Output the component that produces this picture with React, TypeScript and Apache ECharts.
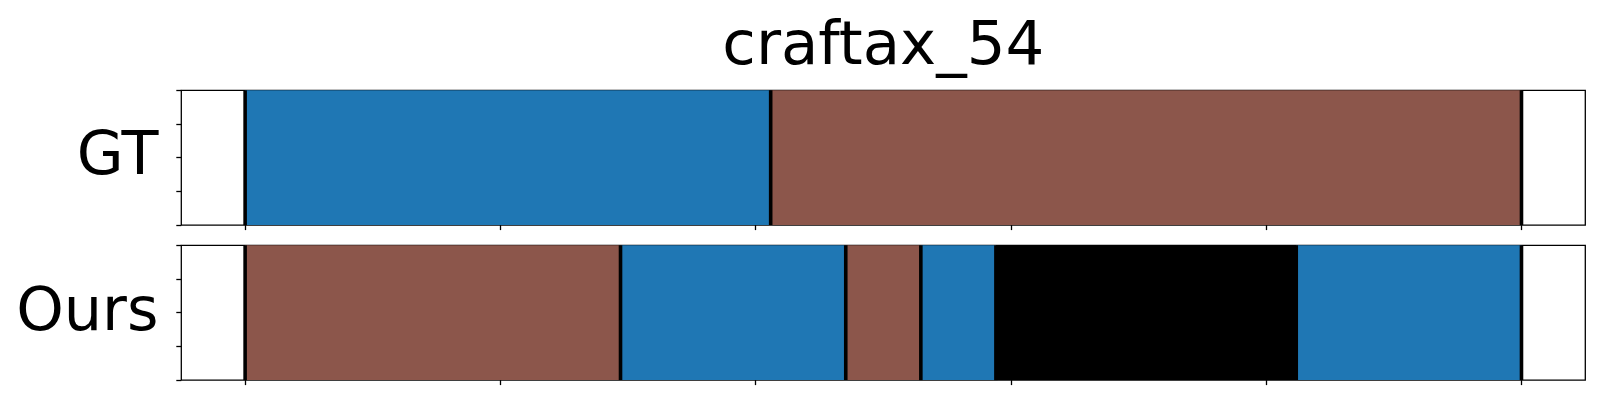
import React, { useEffect, useRef } from "react";
import * as echarts from "echarts";

// ---- data ----
const titleText = "craftax_54";
const rowLabels = ["GT", "Ours"];
const nFrames = 17;
const classColors = ["#1f77b4", "#8c564b", "#000000"];
const gtBoundaries = [0, 7, 17];
const gtClasses = [0, 1];
const oursBoundaries = [0, 5, 8, 9, 10, 14, 17];
const oursClasses = [1, 0, 1, 0, 2, 0];
const xTickFractions = [0, 0.2, 0.4, 0.6, 0.8, 1.0];

const rows = [
  { boundaries: gtBoundaries, classes: gtClasses },
  { boundaries: oursBoundaries, classes: oursClasses },
];

const FONT = "DejaVu Sans";

export default function App() {
  const ref = useRef<HTMLDivElement>(null);
  useEffect(() => {
    if (!ref.current) return;
    const chart = echarts.init(ref.current, undefined, { renderer: "svg" });
    const gridTops = [90.3, 245.3];
    const gridH = 134.8;
    const grids = gridTops.map((t) => ({
      left: 181.3,
      top: t,
      width: 1404,
      height: gridH,
      show: true,
      borderColor: "#000",
      borderWidth: 1.3,
      backgroundColor: "transparent",
    }));
    const xAxes = rows.map((_, i) => ({
      type: "value",
      gridIndex: i,
      position: "bottom",
      min: -0.05 * nFrames,
      max: 1.05 * nFrames,
      axisLine: { show: false, onZero: false },
      splitLine: { show: false },
      axisLabel: { show: false },
      axisTick: {
        show: true,
        inside: false,
        length: 5,
        lineStyle: { color: "#000", width: 1.3 },
        customValues: xTickFractions.map((f) => f * nFrames),
      },
    }));
    const yAxes = rows.map((_, i) => ({
      type: "value",
      gridIndex: i,
      position: "left",
      min: 0,
      max: 1,
      interval: 0.25,
      axisLine: { show: false, onZero: false },
      splitLine: { show: false },
      axisLabel: { show: false },
      axisTick: { show: true, inside: false, length: 5, lineStyle: { color: "#000", width: 1.3 } },
    }));
    const series: any[] = [];
    rows.forEach((row, i) => {
      const segData = row.classes.map((c, k) => [row.boundaries[k], row.boundaries[k + 1], c]);
      series.push({
        type: "custom",
        xAxisIndex: i,
        yAxisIndex: i,
        data: segData,
        z: 2,
        renderItem: (params: any, api: any) => {
          const p0 = api.coord([api.value(0), 1]);
          const p1 = api.coord([api.value(1), 0]);
          return {
            type: "rect",
            shape: { x: p0[0], y: p0[1], width: p1[0] - p0[0], height: p1[1] - p0[1] },
            style: { fill: classColors[api.value(2)] },
          };
        },
      });
      series.push({
        type: "custom",
        xAxisIndex: i,
        yAxisIndex: i,
        data: row.boundaries.map((b) => [b]),
        z: 3,
        renderItem: (params: any, api: any) => {
          const a = api.coord([api.value(0), 0]);
          const b = api.coord([api.value(0), 1]);
          return {
            type: "line",
            shape: { x1: a[0], y1: a[1], x2: b[0], y2: b[1] },
            style: { stroke: "#000", lineWidth: 3.6 },
          };
        },
      });
    });
    chart.setOption({
      animation: false,
      backgroundColor: "#fff",
      grid: grids,
      xAxis: xAxes,
      yAxis: yAxes,
      series,
      graphic: [
        {
          type: "text",
          x: 883.3,
          y: 42,
          style: {
            text: titleText,
            font: `61px '${FONT}'`,
            fill: "#000",
            align: "center",
            verticalAlign: "middle",
          },
        },
        ...rowLabels.map((lab, i) => ({
          type: "text",
          x: 158.5,
          y: i === 0 ? 153.2 : 309.2,
          style: {
            text: lab,
            font: `60.5px '${FONT}'`,
            fill: "#000",
            align: "right",
            verticalAlign: "middle",
          },
        })),
      ],
    });
    return () => chart.dispose();
  }, []);
  return (
    <div
      ref={ref}
      style={{ position: "fixed", left: 0, top: 0, width: 1600, height: 400 }}
    />
  );
}
